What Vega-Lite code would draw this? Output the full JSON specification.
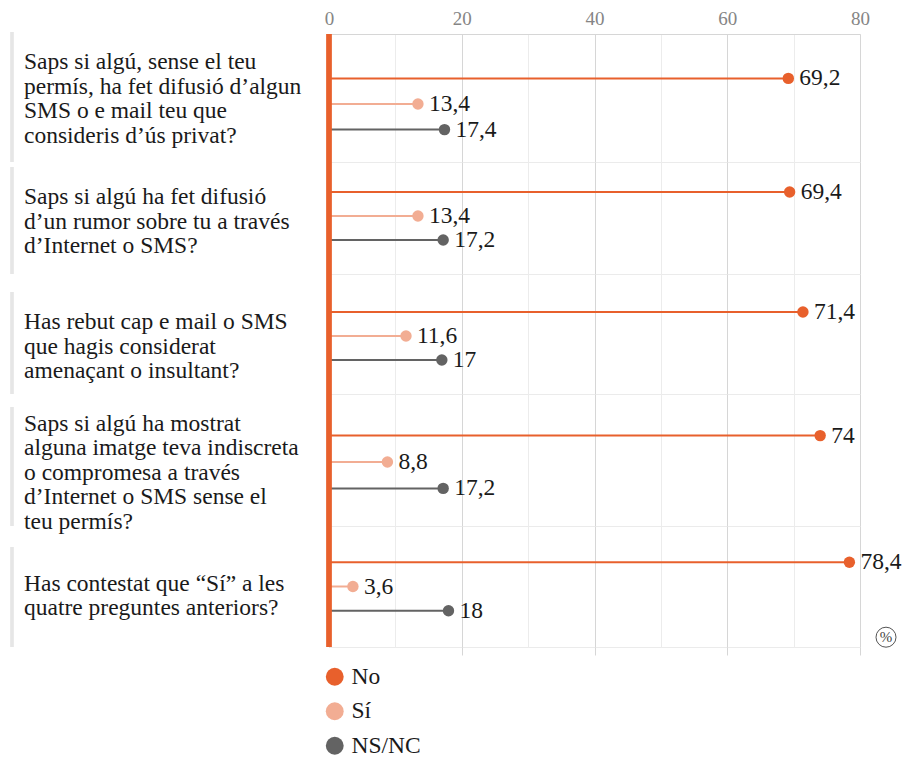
{
  "$schema": "https://vega.github.io/schema/vega-lite/v6.json",
  "padding": {"left": 10, "top": 8, "right": 2, "bottom": 2},
  "autosize": {"type": "pad"},
  "background": "white",
  "data": {"values": [
    {"q": 1, "question": "Saps si algú, sense el teu\npermís, ha fet difusió d’algun\nSMS o e mail teu que\nconsideris d’ús privat?", "answer": "No", "value": 69.2, "label": "69,2"},
    {"q": 1, "question": "Saps si algú, sense el teu\npermís, ha fet difusió d’algun\nSMS o e mail teu que\nconsideris d’ús privat?", "answer": "Sí", "value": 13.4, "label": "13,4"},
    {"q": 1, "question": "Saps si algú, sense el teu\npermís, ha fet difusió d’algun\nSMS o e mail teu que\nconsideris d’ús privat?", "answer": "NS/NC", "value": 17.4, "label": "17,4"},
    {"q": 2, "question": "Saps si algú ha fet difusió\nd’un rumor sobre tu a través\nd’Internet o SMS?", "answer": "No", "value": 69.4, "label": "69,4"},
    {"q": 2, "question": "Saps si algú ha fet difusió\nd’un rumor sobre tu a través\nd’Internet o SMS?", "answer": "Sí", "value": 13.4, "label": "13,4"},
    {"q": 2, "question": "Saps si algú ha fet difusió\nd’un rumor sobre tu a través\nd’Internet o SMS?", "answer": "NS/NC", "value": 17.2, "label": "17,2"},
    {"q": 3, "question": "Has rebut cap e mail o SMS\nque hagis considerat\namenaçant o insultant?", "answer": "No", "value": 71.4, "label": "71,4"},
    {"q": 3, "question": "Has rebut cap e mail o SMS\nque hagis considerat\namenaçant o insultant?", "answer": "Sí", "value": 11.6, "label": "11,6"},
    {"q": 3, "question": "Has rebut cap e mail o SMS\nque hagis considerat\namenaçant o insultant?", "answer": "NS/NC", "value": 17, "label": "17"},
    {"q": 4, "question": "Saps si algú ha mostrat\nalguna imatge teva indiscreta\no compromesa a través\nd’Internet o SMS sense el\nteu permís?", "answer": "No", "value": 74, "label": "74"},
    {"q": 4, "question": "Saps si algú ha mostrat\nalguna imatge teva indiscreta\no compromesa a través\nd’Internet o SMS sense el\nteu permís?", "answer": "Sí", "value": 8.8, "label": "8,8"},
    {"q": 4, "question": "Saps si algú ha mostrat\nalguna imatge teva indiscreta\no compromesa a través\nd’Internet o SMS sense el\nteu permís?", "answer": "NS/NC", "value": 17.2, "label": "17,2"},
    {"q": 5, "question": "Has contestat que “Sí” a les\nquatre preguntes anteriors?", "answer": "No", "value": 78.4, "label": "78,4"},
    {"q": 5, "question": "Has contestat que “Sí” a les\nquatre preguntes anteriors?", "answer": "Sí", "value": 3.6, "label": "3,6"},
    {"q": 5, "question": "Has contestat que “Sí” a les\nquatre preguntes anteriors?", "answer": "NS/NC", "value": 18, "label": "18"}
  ]},
  "bounds": "flush",
  "spacing": 0,
  "resolve": {"scale": {"color": "independent"}, "legend": {"color": "independent"}},
  "vconcat": [
    {
      "width": 531, "height": 128,
      "transform": [{"filter": "datum.q === 1"}],
      "layer": [
        {"mark": {"type": "rule", "strokeWidth": 2, "yOffset": 6},
         "encoding": {
           "x": {"field": "value", "type": "quantitative", "scale": {"domain": [0, 80], "nice": false, "zero": true},
                 "axis": {"orient": "top", "values": [0, 10, 20, 30, 40, 50, 60, 70, 80], "labelExpr": "datum.value % 20 === 0 ? datum.label : ''", "labelFlush": false, "labelOverlap": false, "labelFontSize": 19, "labelColor": "#858585", "labelPadding": 6, "domain": true, "domainColor": "#d6d6d6", "ticks": false, "grid": true, "gridColor": {"condition": {"test": "datum.value % 20 === 0", "value": "#d6d6d6"}, "value": "#ececec"}, "title": null}},
           "x2": {"datum": 0},
           "y": {"field": "answer", "type": "nominal", "sort": ["No", "Sí", "NS/NC"], "scale": {"paddingInner": 0, "paddingOuter": 1.1667}, "axis": null},
           "color": {"field": "answer", "type": "nominal", "scale": {"domain": ["No", "Sí", "NS/NC"], "range": ["#e8602c", "#f2ad93", "#636363"]}, "legend": null}
         }},
        {"mark": {"type": "point", "filled": true, "size": 130, "opacity": 1, "yOffset": 6},
         "encoding": {
           "x": {"field": "value", "type": "quantitative"},
           "y": {"field": "answer", "type": "nominal", "sort": ["No", "Sí", "NS/NC"]},
           "color": {"field": "answer", "type": "nominal", "legend": null}
         }},
        {"mark": {"type": "text", "align": "left", "baseline": "middle", "dx": 11, "fontSize": 23.5, "color": "#1a1a1a", "yOffset": 6},
         "encoding": {
           "x": {"field": "value", "type": "quantitative"},
           "y": {"field": "answer", "type": "nominal", "sort": ["No", "Sí", "NS/NC"]},
           "text": {"field": "label"}
         }},
        {"transform": [{"filter": "datum.answer === 'Sí'"}],
         "mark": {"type": "text", "align": "left", "baseline": "middle", "dx": -305, "dy": -36, "fontSize": 23.5, "lineHeight": 24.5, "lineBreak": "\n", "color": "#1a1a1a"},
         "encoding": {
           "x": {"datum": 0, "type": "quantitative"},
           "y": {"field": "answer", "type": "nominal", "sort": ["No", "Sí", "NS/NC"]},
           "text": {"field": "question"}
         }},
        {"mark": {"type": "rule", "color": "#e6e6e6", "strokeWidth": 3, "xOffset": -317, "yOffset": -2, "y2Offset": 0},
         "encoding": {"x": {"datum": 0, "type": "quantitative"}}},
        {"mark": {"type": "rule", "color": "#e8602c", "strokeWidth": 5},
         "encoding": {"x": {"datum": 0, "type": "quantitative"}}}
      ]
    },
    {
      "width": 531, "height": 112,
      "transform": [{"filter": "datum.q === 2"}],
      "layer": [
        {"mark": {"type": "rule", "strokeWidth": 2, "yOffset": -2},
         "encoding": {
           "x": {"field": "value", "type": "quantitative", "scale": {"domain": [0, 80], "nice": false, "zero": true},
                 "axis": {"orient": "bottom", "values": [0, 10, 20, 30, 40, 50, 60, 70, 80], "labels": false, "domain": false, "ticks": false, "grid": true, "gridColor": {"condition": {"test": "datum.value % 20 === 0", "value": "#d6d6d6"}, "value": "#ececec"}, "title": null}},
           "x2": {"datum": 0},
           "y": {"field": "answer", "type": "nominal", "sort": ["No", "Sí", "NS/NC"], "scale": {"paddingInner": 0, "paddingOuter": 0.8333}, "axis": null},
           "color": {"field": "answer", "type": "nominal", "scale": {"domain": ["No", "Sí", "NS/NC"], "range": ["#e8602c", "#f2ad93", "#636363"]}, "legend": null}
         }},
        {"mark": {"type": "point", "filled": true, "size": 130, "opacity": 1, "yOffset": -2},
         "encoding": {
           "x": {"field": "value", "type": "quantitative"},
           "y": {"field": "answer", "type": "nominal", "sort": ["No", "Sí", "NS/NC"]},
           "color": {"field": "answer", "type": "nominal", "legend": null}
         }},
        {"mark": {"type": "text", "align": "left", "baseline": "middle", "dx": 11, "fontSize": 23.5, "color": "#1a1a1a", "yOffset": -2},
         "encoding": {
           "x": {"field": "value", "type": "quantitative"},
           "y": {"field": "answer", "type": "nominal", "sort": ["No", "Sí", "NS/NC"]},
           "text": {"field": "label"}
         }},
        {"transform": [{"filter": "datum.answer === 'Sí'"}],
         "mark": {"type": "text", "align": "left", "baseline": "middle", "dx": -305, "dy": -21, "fontSize": 23.5, "lineHeight": 24.5, "lineBreak": "\n", "color": "#1a1a1a"},
         "encoding": {
           "x": {"datum": 0, "type": "quantitative"},
           "y": {"field": "answer", "type": "nominal", "sort": ["No", "Sí", "NS/NC"]},
           "text": {"field": "question"}
         }},
        {"mark": {"type": "rule", "color": "#e6e6e6", "strokeWidth": 3, "xOffset": -317, "yOffset": 5, "y2Offset": 3},
         "encoding": {"x": {"datum": 0, "type": "quantitative"}}},
        {"mark": {"type": "rule", "color": "#e8602c", "strokeWidth": 5},
         "encoding": {"x": {"datum": 0, "type": "quantitative"}}}
      ]
    },
    {
      "width": 531, "height": 120,
      "transform": [{"filter": "datum.q === 3"}],
      "layer": [
        {"mark": {"type": "rule", "strokeWidth": 2, "yOffset": 2},
         "encoding": {
           "x": {"field": "value", "type": "quantitative", "scale": {"domain": [0, 80], "nice": false, "zero": true},
                 "axis": {"orient": "bottom", "values": [0, 10, 20, 30, 40, 50, 60, 70, 80], "labels": false, "domain": false, "ticks": false, "grid": true, "gridColor": {"condition": {"test": "datum.value % 20 === 0", "value": "#d6d6d6"}, "value": "#ececec"}, "title": null}},
           "x2": {"datum": 0},
           "y": {"field": "answer", "type": "nominal", "sort": ["No", "Sí", "NS/NC"], "scale": {"paddingInner": 0, "paddingOuter": 1}, "axis": null},
           "color": {"field": "answer", "type": "nominal", "scale": {"domain": ["No", "Sí", "NS/NC"], "range": ["#e8602c", "#f2ad93", "#636363"]}, "legend": null}
         }},
        {"mark": {"type": "point", "filled": true, "size": 130, "opacity": 1, "yOffset": 2},
         "encoding": {
           "x": {"field": "value", "type": "quantitative"},
           "y": {"field": "answer", "type": "nominal", "sort": ["No", "Sí", "NS/NC"]},
           "color": {"field": "answer", "type": "nominal", "legend": null}
         }},
        {"mark": {"type": "text", "align": "left", "baseline": "middle", "dx": 11, "fontSize": 23.5, "color": "#1a1a1a", "yOffset": 2},
         "encoding": {
           "x": {"field": "value", "type": "quantitative"},
           "y": {"field": "answer", "type": "nominal", "sort": ["No", "Sí", "NS/NC"]},
           "text": {"field": "label"}
         }},
        {"transform": [{"filter": "datum.answer === 'Sí'"}],
         "mark": {"type": "text", "align": "left", "baseline": "middle", "dx": -305, "dy": -12, "fontSize": 23.5, "lineHeight": 24.5, "lineBreak": "\n", "color": "#1a1a1a"},
         "encoding": {
           "x": {"datum": 0, "type": "quantitative"},
           "y": {"field": "answer", "type": "nominal", "sort": ["No", "Sí", "NS/NC"]},
           "text": {"field": "question"}
         }},
        {"mark": {"type": "rule", "color": "#e6e6e6", "strokeWidth": 3, "xOffset": -317, "yOffset": 18, "y2Offset": 0},
         "encoding": {"x": {"datum": 0, "type": "quantitative"}}},
        {"mark": {"type": "rule", "color": "#e8602c", "strokeWidth": 5},
         "encoding": {"x": {"datum": 0, "type": "quantitative"}}}
      ]
    },
    {
      "width": 531, "height": 132,
      "transform": [{"filter": "datum.q === 4"}],
      "layer": [
        {"mark": {"type": "rule", "strokeWidth": 2, "yOffset": 2},
         "encoding": {
           "x": {"field": "value", "type": "quantitative", "scale": {"domain": [0, 80], "nice": false, "zero": true},
                 "axis": {"orient": "bottom", "values": [0, 10, 20, 30, 40, 50, 60, 70, 80], "labels": false, "domain": false, "ticks": false, "grid": true, "gridColor": {"condition": {"test": "datum.value % 20 === 0", "value": "#d6d6d6"}, "value": "#ececec"}, "title": null}},
           "x2": {"datum": 0},
           "y": {"field": "answer", "type": "nominal", "sort": ["No", "Sí", "NS/NC"], "scale": {"paddingInner": 0, "paddingOuter": 1.25}, "axis": null},
           "color": {"field": "answer", "type": "nominal", "scale": {"domain": ["No", "Sí", "NS/NC"], "range": ["#e8602c", "#f2ad93", "#636363"]}, "legend": null}
         }},
        {"mark": {"type": "point", "filled": true, "size": 130, "opacity": 1, "yOffset": 2},
         "encoding": {
           "x": {"field": "value", "type": "quantitative"},
           "y": {"field": "answer", "type": "nominal", "sort": ["No", "Sí", "NS/NC"]},
           "color": {"field": "answer", "type": "nominal", "legend": null}
         }},
        {"mark": {"type": "text", "align": "left", "baseline": "middle", "dx": 11, "fontSize": 23.5, "color": "#1a1a1a", "yOffset": 2},
         "encoding": {
           "x": {"field": "value", "type": "quantitative"},
           "y": {"field": "answer", "type": "nominal", "sort": ["No", "Sí", "NS/NC"]},
           "text": {"field": "label"}
         }},
        {"transform": [{"filter": "datum.answer === 'Sí'"}],
         "mark": {"type": "text", "align": "left", "baseline": "middle", "dx": -305, "dy": -36.5, "fontSize": 23.5, "lineHeight": 24.5, "lineBreak": "\n", "color": "#1a1a1a"},
         "encoding": {
           "x": {"datum": 0, "type": "quantitative"},
           "y": {"field": "answer", "type": "nominal", "sort": ["No", "Sí", "NS/NC"]},
           "text": {"field": "question"}
         }},
        {"mark": {"type": "rule", "color": "#e6e6e6", "strokeWidth": 3, "xOffset": -317, "yOffset": 13, "y2Offset": 13},
         "encoding": {"x": {"datum": 0, "type": "quantitative"}}},
        {"mark": {"type": "rule", "color": "#e8602c", "strokeWidth": 5},
         "encoding": {"x": {"datum": 0, "type": "quantitative"}}}
      ]
    },
    {
      "width": 531, "height": 121,
      "transform": [{"filter": "datum.q === 5"}],
      "layer": [
        {"mark": {"type": "rule", "strokeWidth": 2},
         "encoding": {
           "x": {"field": "value", "type": "quantitative", "scale": {"domain": [0, 80], "nice": false, "zero": true},
                 "axis": {"orient": "bottom", "values": [0, 10, 20, 30, 40, 50, 60, 70, 80], "labels": false, "domain": false, "ticks": true, "tickSize": 8, "tickColor": {"condition": {"test": "datum.value % 20 === 0 && datum.value > 0", "value": "#d6d6d6"}, "value": "transparent"}, "grid": true, "gridColor": {"condition": {"test": "datum.value % 20 === 0", "value": "#d6d6d6"}, "value": "#ececec"}, "title": null}},
           "x2": {"datum": 0},
           "y": {"field": "answer", "type": "nominal", "sort": ["No", "Sí", "NS/NC"], "scale": {"paddingInner": 0, "paddingOuter": 1.0208}, "axis": null},
           "color": {"field": "answer", "type": "nominal", "scale": {"domain": ["No", "Sí", "NS/NC"], "range": ["#e8602c", "#f2ad93", "#636363"]}}
         }},
        {"mark": {"type": "point", "filled": true, "size": 130, "opacity": 1},
         "encoding": {
           "x": {"field": "value", "type": "quantitative"},
           "y": {"field": "answer", "type": "nominal", "sort": ["No", "Sí", "NS/NC"]},
           "color": {"field": "answer", "type": "nominal",
                     "legend": {"orient": "none", "legendX": -6, "legendY": 139, "direction": "vertical", "title": null, "symbolType": "circle", "symbolSize": 320, "symbolStrokeWidth": 0, "labelFontSize": 23.5, "labelColor": "#1a1a1a", "labelOffset": 5, "rowPadding": 9.5, "padding": 0}}
         }},
        {"mark": {"type": "text", "align": "left", "baseline": "middle", "dx": 11, "fontSize": 23.5, "color": "#1a1a1a"},
         "encoding": {
           "x": {"field": "value", "type": "quantitative"},
           "y": {"field": "answer", "type": "nominal", "sort": ["No", "Sí", "NS/NC"]},
           "text": {"field": "label"}
         }},
        {"transform": [{"filter": "datum.answer === 'Sí'"}],
         "mark": {"type": "text", "align": "left", "baseline": "middle", "dx": -305, "dy": -3, "fontSize": 23.5, "lineHeight": 24.5, "lineBreak": "\n", "color": "#1a1a1a"},
         "encoding": {
           "x": {"datum": 0, "type": "quantitative"},
           "y": {"field": "answer", "type": "nominal", "sort": ["No", "Sí", "NS/NC"]},
           "text": {"field": "question"}
         }},
        {"mark": {"type": "rule", "color": "#e6e6e6", "strokeWidth": 3, "xOffset": -317, "yOffset": 21, "y2Offset": 0},
         "encoding": {"x": {"datum": 0, "type": "quantitative"}}},
        {"transform": [{"filter": "datum.answer === 'NS/NC'"}],
         "mark": {"type": "point", "shape": "circle", "filled": false, "size": 400, "stroke": "#555555", "strokeWidth": 1, "opacity": 1, "xOffset": 26, "yOffset": 26.5},
         "encoding": {
           "x": {"datum": 80, "type": "quantitative"},
           "y": {"field": "answer", "type": "nominal", "sort": ["No", "Sí", "NS/NC"]}
         }},
        {"transform": [{"filter": "datum.answer === 'NS/NC'"}],
         "mark": {"type": "text", "align": "center", "baseline": "middle", "dx": 26, "dy": 26.5, "fontSize": 15, "color": "#444444"},
         "encoding": {
           "x": {"datum": 80, "type": "quantitative"},
           "y": {"field": "answer", "type": "nominal", "sort": ["No", "Sí", "NS/NC"]},
           "text": {"value": "%"}
         }},
        {"mark": {"type": "rule", "color": "#e8602c", "strokeWidth": 5},
         "encoding": {"x": {"datum": 0, "type": "quantitative"}}}
      ]
    }
  ],
  "config": {
    "font": "Liberation Serif",
    "view": {"stroke": "#ebebeb"},
    "axis": {"labelFont": "Liberation Serif"},
    "legend": {"labelFont": "Liberation Serif"},
    "text": {"font": "Liberation Serif"}
  }
}
